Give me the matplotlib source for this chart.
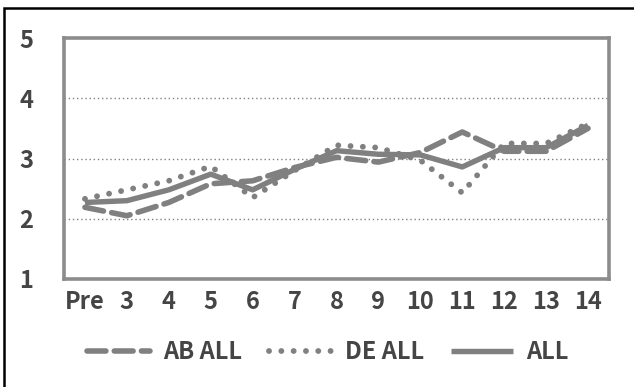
import matplotlib

matplotlib.use("Agg")

import matplotlib.pyplot as plt
from matplotlib.patches import Rectangle

categories = ["Pre", "3", "4", "5", "6", "7", "8", "9", "10", "11", "12", "13", "14"]
ab_all = [2.19, 2.05, 2.27, 2.58, 2.63, 2.85, 3.02, 2.94, 3.10, 3.44, 3.12, 3.12, 3.50]
de_all = [2.33, 2.48, 2.63, 2.87, 2.35, 2.80, 3.22, 3.18, 2.97, 2.43, 3.25, 3.25, 3.58]
all_vals = [2.27, 2.30, 2.48, 2.74, 2.48, 2.82, 3.13, 3.07, 3.06, 2.86, 3.18, 3.18, 3.55]
series_names = ["AB ALL", "DE ALL", "ALL"]

LINE = "#808080"
TEXT = "#454545"
FONT = ["Noto Sans CJK JP", "DejaVu Sans"]

plt.rcParams["font.family"] = FONT
plt.rcParams["font.weight"] = "bold"

fig = plt.figure(figsize=(6.34, 3.87), dpi=100)
ax = fig.add_axes([64 / 634, 1 - 279 / 387, 545 / 634, 241 / 387])

x = list(range(len(categories)))
ax.plot(x, ab_all, color=LINE, lw=4.0, dashes=(3.4, 1.5), dash_capstyle="round",
        label=series_names[0])
ax.plot(x, de_all, color=LINE, lw=4.2, linestyle=(0, (0.01, 2.1)), dash_capstyle="round",
        label=series_names[1])
ax.plot(x, all_vals, color=LINE, lw=3.9, solid_capstyle="butt", label=series_names[2])

ax.set_xlim(-0.5, len(categories) - 0.5)
ax.set_ylim(1, 5)
ax.set_yticks([1, 2, 3, 4, 5])
ax.set_xticks(x)
ax.set_xticklabels(categories)
for yv in [2, 3, 4]:
    ax.axhline(yv, color=LINE, lw=1.0, linestyle=(0, (1, 2)), zorder=0)

ax.tick_params(axis="both", length=0, labelsize=17, labelcolor=TEXT)
ax.tick_params(axis="y", pad=22)
ax.tick_params(axis="x", pad=8)
for side in ax.spines.values():
    side.set_color("#8c8c8c")
    side.set_linewidth(2.6)

leg = fig.legend(loc="center", bbox_to_anchor=(328 / 634, 1 - 352 / 387), ncol=3,
                 frameon=False, fontsize=17, handlelength=2.65, handletextpad=0.55,
                 columnspacing=1.15, labelcolor=TEXT)

fig.patches.append(Rectangle((4 / 634, -0.1), 1.1, 1.1 - 8 / 387, transform=fig.transFigure,
                             fill=False, edgecolor="black", lw=1.8))

fig.savefig("out.png", dpi=100)
